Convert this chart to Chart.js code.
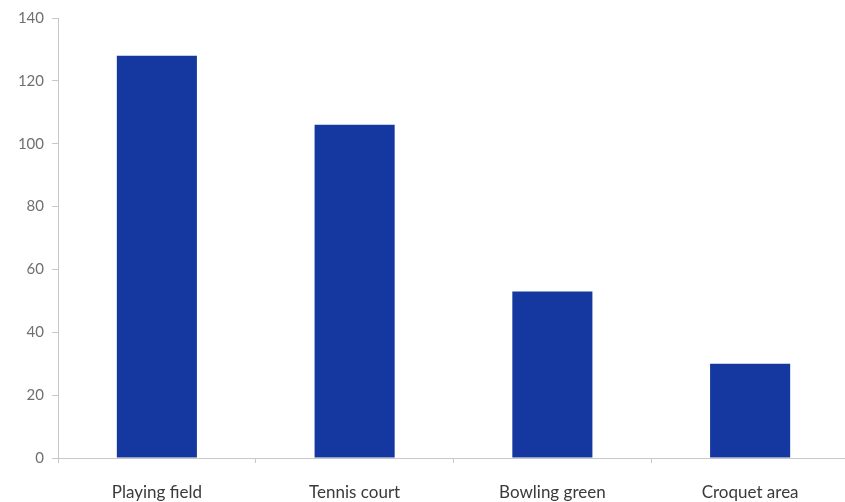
<!DOCTYPE html>
<html>
<head>
<meta charset="utf-8">
<script src="https://cdn.jsdelivr.net/npm/chart.js@4/dist/chart.umd.min.js"></script>
<style>
html,body{margin:0;padding:0;background:#fff;overflow:hidden;}
#wrap{width:845px;height:502px;overflow:hidden;}
</style>
</head>
<body>
<div id="wrap"><canvas id="c" width="849" height="502"></canvas></div>
<script>
const categories = ["Playing field", "Tennis court", "Bowling green", "Croquet area"];
const values = [128, 106, 53, 30];
const yTicks = [0, 20, 40, 60, 80, 100, 120, 140];

new Chart(document.getElementById('c'), {
  type: 'bar',
  data: {
    labels: categories,
    datasets: [{
      data: values,
      backgroundColor: '#1538a0',
      borderWidth: 0,
      barPercentage: 0.405,
      categoryPercentage: 1.0
    }]
  },
  options: {
    responsive: false,
    animation: false,
    layout: { padding: { top: 18, right: 0, left: 0, bottom: 0 } },
    plugins: { legend: { display: false }, tooltip: { enabled: false } },
    scales: {
      x: {
        offset: true,
        grid: { offset: true, drawOnChartArea: false, tickLength: 5, color: '#c8c8c8' },
        border: { color: '#c8c8c8' },
        ticks: { color: '#3a3a3a', font: { family: 'Lato', size: 17 }, padding: 19 },
        afterFit: (s) => { s.height = 44; }
      },
      y: {
        min: 0, max: 140,
        afterBuildTicks: (s) => { s.ticks = yTicks.map(v => ({ value: v })); },
        grid: { drawOnChartArea: false, tickLength: 6, color: '#c8c8c8' },
        border: { color: '#c8c8c8' },
        ticks: { color: '#707070', font: { family: 'Lato', size: 15 }, padding: 8 },
        afterFit: (s) => { s.width = 58; }
      }
    }
  }
});
</script>
</body>
</html>
